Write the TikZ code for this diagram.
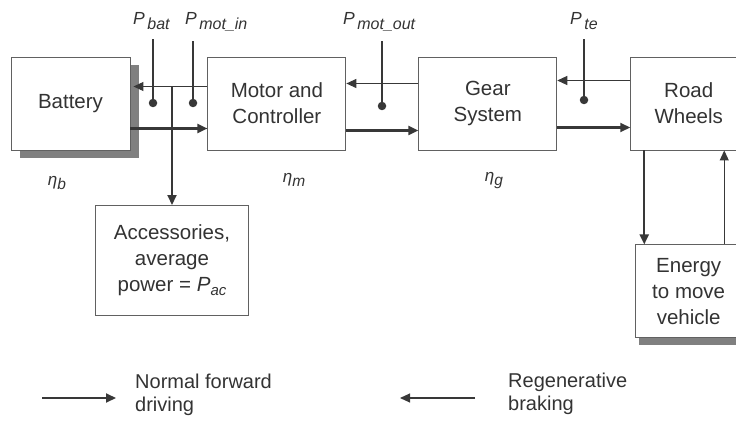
\documentclass[tikz,border=0pt]{standalone}
\usepackage{fontspec}
\setmainfont{Liberation Sans}
\usetikzlibrary{arrows.meta, calc, positioning, shadows}

\newcommand{\pwr}[1]{\textit{P}\hspace{2.5pt}\raisebox{-5pt}{\fontsize{16}{16}\selectfont\textit{#1}}}
\newcommand{\eff}[1]{\textit{η}\raisebox{-4pt}{\fontsize{15.5}{15.5}\selectfont\textit{#1}}}
\newcommand{\lowsub}[1]{\raisebox{-4pt}{\fontsize{15}{15}\selectfont\textit{#1}}}

\begin{document}
\begin{tikzpicture}[x=1pt, y=-1pt, node distance=94pt and 75pt]
  \colorlet{linecol}{black!78}
  \colorlet{boxcol}{black!62}
  \colorlet{shadowcol}{black!50}
  \colorlet{textcol}{black!80}

  \tikzset{
    unit/.style={
      rectangle, draw=boxcol, line width=0.9pt, fill=white,
      minimum width=138pt, minimum height=93pt,
      align=center, inner sep=0pt,
      font=\fontsize{20.5}{26}\selectfont, text=textcol
    },
    castshadow/.style 2 args={
      drop shadow={shadow xshift=#1, shadow yshift=#2, fill=shadowcol, opacity=1}
    },
    fwd/.style={
      -{Triangle[length=10pt, width=9pt]},
      line width=2.1pt, color=linecol
    },
    regen/.style={
      -{Triangle[length=10pt, width=9pt]},
      line width=1.1pt, color=linecol
    },
    tap/.style={line width=1.1pt, color=linecol},
    dot/.style={circle, fill=linecol, minimum size=8.5pt, inner sep=0pt},
    plabel/.style={
      font=\fontsize{17.5}{17.5}\selectfont, text=textcol,
      inner sep=0pt, outer ysep=9pt, anchor=base west
    },
    eta/.style={font=\fontsize{17}{17}\selectfont, text=textcol, inner sep=0pt},
    legend/.style={
      font=\fontsize{20}{23}\selectfont, text=textcol,
      align=left, anchor=west, inner sep=0pt
    }
  }

  \useasboundingbox (0,0) rectangle (736,425);

  \node[unit, minimum width=119pt, castshadow={9pt}{-8pt}] (battery) at (70.5,103.5) {Battery};
  \node[unit, right=77pt of battery] (motor) {Motor and\\Controller};
  \node[unit, right=72pt of motor] (gear) {Gear\\System};
  \node[unit, minimum width=116pt, right=73pt of gear] (wheels) {Road\\Wheels};
  \node[unit, minimum width=106pt, below=of wheels, castshadow={3pt}{-7pt}] (energy) {Energy\\to move\\vehicle};
  \node[unit, minimum width=153pt, minimum height=110pt, anchor=north] (acc) at (172,205)
    {Accessories,\\average\\power = \textit{P}\lowsub{ac}};

  \coordinate (split) at ([yshift=17pt]battery.east);

  \draw[regen] ([yshift=17pt]motor.west) -- ([xshift=3pt]split);
  \draw[fwd] ([yshift=-25pt]battery.east) -- ([yshift=-25pt]motor.west);
  \draw[regen] ([yshift=20pt]gear.west) -- ([yshift=20pt]motor.east);
  \draw[fwd] ([yshift=-27pt]motor.east) -- ([yshift=-27pt]gear.west);
  \draw[regen] ([yshift=23pt]wheels.west) -- ([yshift=23pt]gear.east);
  \draw[fwd] ([yshift=-24pt]gear.east) -- ([yshift=-24pt]wheels.west);
  \draw[fwd] (acc.north |- split) -- (acc.north);

  \draw[fwd] ([xshift=14pt]wheels.south west) -- ([xshift=14pt]wheels.south west |- energy.north);
  \draw[regen] ([xshift=94pt]wheels.south west |- energy.north) -- ([xshift=94pt]wheels.south west);

  \node[dot] (dbat) at (153,103) {};
  \node[dot] (dmotin) at (193,103) {};
  \node[dot] (dmotout) at (382,106) {};
  \node[dot] (dte) at (584,100) {};

  \node[plabel] (lbat) at (133,25) {\pwr{bat}};
  \node[plabel] (lmotin) at (185,25) {\pwr{mot\_in}};
  \node[plabel] (lmotout) at (343,25) {\pwr{mot\_out}};
  \node[plabel] (lte) at (570,25) {\pwr{te}};

  \draw[tap] (dbat) -- (dbat |- lbat.south);
  \draw[tap] (dmotin) -- (dmotin |- lmotin.south);
  \draw[tap] (dmotout) -- (dmotout |- lmotout.south);
  \draw[tap] (dte) -- (dte |- lte.south);

  \node[eta] (etab) at (57,183) {\eff{b}};
  \node[eta] (etam) at (294,180) {\eff{m}};
  \node[eta] (etag) at (494,181) {\eff{g}};

  \node[legend] (fwdtxt) at (135,395) {Normal forward\\driving};
  \node[legend] (regtxt) at (508,394) {Regenerative\\braking};
  \draw[fwd] ([xshift=-93pt, yshift=-3pt]fwdtxt.west) -- ([xshift=-19pt, yshift=-3pt]fwdtxt.west);
  \draw[regen] ([xshift=-33pt, yshift=-4pt]regtxt.west) -- ([xshift=-108pt, yshift=-4pt]regtxt.west);
\end{tikzpicture}
\end{document}
